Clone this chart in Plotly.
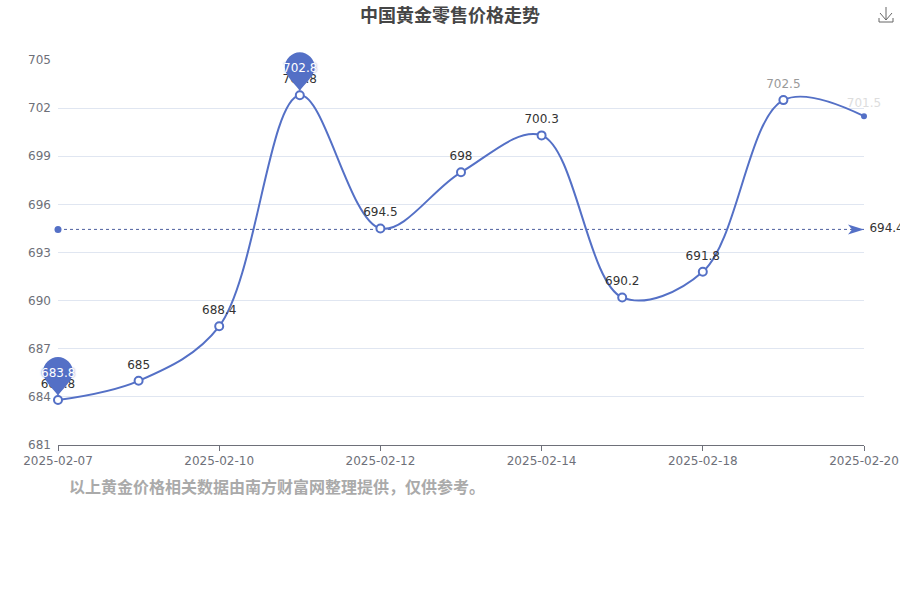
import plotly.graph_objects as go

TITLE = "中国黄金零售价格走势"
NOTE = "以上黄金价格相关数据由南方财富网整理提供，仅供参考。"
dates = ["2025-02-07", "2025-02-08", "2025-02-10", "2025-02-11", "2025-02-12", "2025-02-13",
         "2025-02-14", "2025-02-17", "2025-02-18", "2025-02-19", "2025-02-20"]
prices = [683.8, 685, 688.4, 702.8, 694.5, 698, 700.3, 690.2, 691.8, 702.5, 701.5]
average = 694.44
tick_dates = ["2025-02-07", "2025-02-10", "2025-02-12", "2025-02-14", "2025-02-18", "2025-02-20"]
y_ticks = [681, 684, 687, 690, 693, 696, 699, 702, 705]
y_min, y_max = 681, 705

BLUE = "#5470c6"
label_colors = ["#333"] * 9 + ["#999", "#ddd"]
marker_fill = ["#fff"] * 10 + [BLUE]
marker_size = [8] * 10 + [4]
label_gap = [13] * 10 + [9]

n = len(dates)
fig = go.Figure()

# average line
fig.add_trace(go.Scatter(x=[dates[0], dates[-1]], y=[average, average], mode="lines+markers+text",
                         line=dict(color="#4d5f9e", width=1, dash="3px,3px"),
                         marker=dict(color=[BLUE, "rgba(0,0,0,0)"], size=[7, 7], opacity=1,
                                     line=dict(width=0)),
                         text=["", f"{average:.1f}"], textposition="middle right",
                         textfont=dict(color="#333", size=12, family="DejaVu Sans"),
                         cliponaxis=False, hoverinfo="skip", showlegend=False))

# main series
fig.add_trace(go.Scatter(x=dates, y=prices, mode="lines+markers",
                         line=dict(color=BLUE, width=2, shape="spline", smoothing=1.0),
                         marker=dict(color=marker_fill, size=marker_size, opacity=1,
                                     line=dict(color=BLUE, width=2)),
                         cliponaxis=False, showlegend=False))

# data labels (invisible markers set the label distance)
fig.add_trace(go.Scatter(x=dates, y=prices, mode="markers+text",
                         marker=dict(color="rgba(0,0,0,0)", size=label_gap, opacity=1, line=dict(width=0)),
                         text=[f"{v:g}" for v in prices], textposition="top center",
                         textfont=dict(color=label_colors, size=12, family="DejaVu Sans"),
                         cliponaxis=False, hoverinfo="skip", showlegend=False))


def pin(i, v):
    xf = i / (n - 1)
    yf = (v - y_min) / (y_max - y_min)
    return dict(type="path", xref="paper", yref="paper", xsizemode="pixel", ysizemode="pixel",
                xanchor=xf, yanchor=yf, layer="above", fillcolor=BLUE, line=dict(width=0),
                path="M 0 4 C -3 10 -15 19 -15 28 C -15 36 -8 43 0 43 C 8 43 15 36 15 28 C 15 19 3 10 0 4 Z")


shapes = []
annotations = []
for v in (max(prices), min(prices)):
    i = prices.index(v)
    shapes.append(pin(i, v))
    annotations.append(dict(x=dates[i], y=v, xref="x", yref="y", text=f"{v:g}", showarrow=False,
                            yshift=27, font=dict(color="#fff", size=12, family="DejaVu Sans",
                                                 shadow="0 0 2px #5470c6")))

# arrow at end of average line
shapes.append(dict(type="path", xref="paper", yref="paper", xsizemode="pixel", ysizemode="pixel",
                   xanchor=1, yanchor=(average - y_min) / (y_max - y_min), layer="above",
                   fillcolor=BLUE, line=dict(width=0),
                   path="M 0 0 L -16 5 L -12 0 L -16 -5 Z"))

# toolbox download icon
shapes.append(dict(type="path", xref="paper", yref="paper", xsizemode="pixel", ysizemode="pixel",
                   xanchor=1, yanchor=1, layer="above", line=dict(color="#666", width=1),
                   path="M 15 42 L 15 38 L 29 38 L 29 42 M 16 47 L 22 40 L 28 47 M 22 40 L 22 53"))

annotations.append(dict(x=0.0115, y=-0.1095, xref="paper", yref="paper", xanchor="left", yanchor="middle",
                        text=f"<b>{NOTE}</b>", showarrow=False,
                        font=dict(color="#aaa", size=16, family="DejaVu Sans, Noto Sans CJK SC")))

fig.update_layout(
    width=900, height=600,
    margin=dict(l=58, r=36, t=60, b=154.5, autoexpand=False),
    paper_bgcolor="#fff", plot_bgcolor="#fff",
    showlegend=False,
    title=dict(text=f"<b>{TITLE}</b>", x=0.5, xanchor="center", y=0.9735, yanchor="middle",
               font=dict(size=18, color="#464646", family="DejaVu Sans, Noto Sans CJK SC")),
    xaxis=dict(type="category", categoryorder="array", categoryarray=dates, range=[0, n - 1],
               tickmode="array", tickvals=tick_dates, ticktext=tick_dates, automargin=False,
               showgrid=False, zeroline=False, showline=True, linecolor="#6E7079", linewidth=1,
               ticks="outside", ticklen=5, tickcolor="#6E7079",
               tickfont=dict(color="#6E7079", size=12, family="DejaVu Sans")),
    yaxis=dict(range=[y_min, y_max], tickmode="array", tickvals=y_ticks, automargin=False,
               showgrid=True, gridcolor="#E0E6F1", gridwidth=1, zeroline=False, showline=False, ticks="",
               ticklabelstandoff=6,
               tickfont=dict(color="#6E7079", size=12, family="DejaVu Sans")),
    shapes=shapes, annotations=annotations,
    font=dict(family="DejaVu Sans"),
)

fig.write_html("out.html", config=dict(displayModeBar=False),
               post_script="document.body.style.margin='0';")
